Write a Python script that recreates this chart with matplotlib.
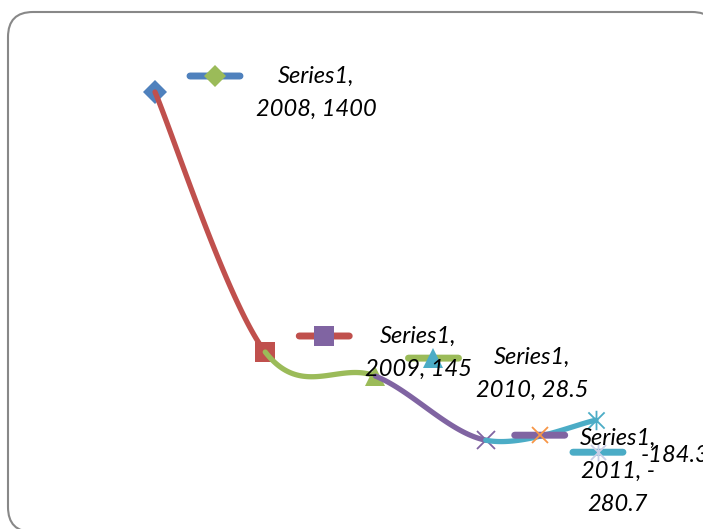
import numpy as np
import matplotlib
matplotlib.use("Agg")
import matplotlib.pyplot as plt
from matplotlib.patches import FancyBboxPatch
from matplotlib.path import Path
from matplotlib.transforms import offset_copy, IdentityTransform

# data
years = ["2008", "2009", "2010", "2011", "2012"]
values = [1400, 145, 28.5, -280.7, -184.3]
series_name = "Series1"

# excel 2007 palette
blue, red, green = "#4F81BD", "#C0504D", "#9BBB59"
purple, teal, orange = "#8064A2", "#4BACC6", "#F79646"
lavender = "#C9CDE6"
point_colors = [blue, red, green, purple, teal]
key_marker_colors = [green, purple, teal, orange, lavender]

star = Path([(-1, -1), (1, 1), (-1, 1), (1, -1), (0, -1.2), (0, 1.2)],
            [Path.MOVETO, Path.LINETO, Path.MOVETO, Path.LINETO, Path.MOVETO, Path.LINETO])
markers = ["D", "s", "^", "x", star]
marker_sizes = [12, 15, 15, 13, 14]

plt.rcParams['font.family'] = ['Lato', 'DejaVu Sans']

fig = plt.figure(figsize=(7.03, 5.29), dpi=100)
# rounded chart-area border (pixels, origin bottom-left); filled so agg doesn't clip the corners
border = FancyBboxPatch((8, -3), 709, 520, boxstyle="round,pad=0,rounding_size=25",
                        transform=IdentityTransform(), fc="white", ec="#888888", lw=1.5, zorder=-1)
fig.add_artist(border)

ax = fig.add_axes([0, 0, 1, 1])
ax.set_axis_off()
ax.patch.set_alpha(0)
ax.set_xlim(-1.406, 4.971)
ax.set_ylim(-709.4, 1844.1)

x = np.arange(len(values), dtype=float)
y = np.array(values, dtype=float)
P = np.column_stack((x, y))
Pext = np.vstack((P[0], P, P[-1]))

def bezier_seg(i):
    p0, p1, p2, p3 = Pext[i], Pext[i + 1], Pext[i + 2], Pext[i + 3]
    c1 = p1 + (p2 - p0) / 6.0
    c2 = p2 - (p3 - p1) / 6.0
    t = np.linspace(0, 1, 60)[:, None]
    return ((1 - t) ** 3) * p1 + 3 * ((1 - t) ** 2) * t * c1 + 3 * (1 - t) * t ** 2 * c2 + t ** 3 * p2

lw = 3.8
for i in range(len(values)):
    if i > 0:
        seg = bezier_seg(i - 1)
        ax.plot(seg[:, 0], seg[:, 1], color=point_colors[i], lw=lw, solid_capstyle="round", zorder=2 + 2 * i)
    mk = markers[i]
    is_line = mk in ("x",) or mk is star
    ax.plot(x[i], y[i], marker=mk, ms=marker_sizes[i], color=point_colors[i],
            mec=point_colors[i], mew=1.3 if is_line else 0, ls="none", zorder=3 + 2 * i)

# data labels with legend keys (offsets in pixels from the point)
key_offsets = [(60, 16), (59, 16), (58, 18), (54, 5), (2, -32)]
label_texts = [f"{series_name},\n{years[0]}, {values[0]:g}",
               f"{series_name},\n{years[1]}, {values[1]:g}",
               f"{series_name},\n{years[2]}, {values[2]:g}",
               f"{series_name},\n{years[3]}, -\n{abs(values[3]):g}",
               f"{values[4]:g}"]
text_offsets = [(161, -1), (153, -1), (157, 2), (132, -31), (79, -35)]

for i in range(len(values)):
    kx, ky = key_offsets[i]
    tr_l = offset_copy(ax.transData, fig=fig, x=kx - 25, y=ky, units="dots")
    tr_r = offset_copy(ax.transData, fig=fig, x=kx + 25, y=ky, units="dots")
    tr_c = offset_copy(ax.transData, fig=fig, x=kx, y=ky, units="dots")
    ax.annotate("", xy=(x[i], y[i]), xycoords=tr_l, xytext=(x[i], y[i]), textcoords=tr_r,
                arrowprops=dict(arrowstyle="-", color=point_colors[i], lw=5.0,
                                capstyle="round", shrinkA=0, shrinkB=0), zorder=20)
    mk = markers[i]
    is_line = mk in ("x",) or mk is star
    ax.plot(x[i], y[i], marker=mk, ms=marker_sizes[i] - 1, color=key_marker_colors[i],
            mec=key_marker_colors[i], mew=1.3 if is_line else 0, ls="none",
            transform=tr_c, zorder=21)
    tx, ty = text_offsets[i]
    tr_t = offset_copy(ax.transData, fig=fig, x=tx, y=ty, units="dots")
    ax.text(x[i], y[i], label_texts[i], transform=tr_t, ha="center", va="center",
            multialignment="center", fontsize=17, fontstyle="italic", color="black",
            linespacing=1.7, zorder=22)

fig.savefig("out.png", dpi=100)
